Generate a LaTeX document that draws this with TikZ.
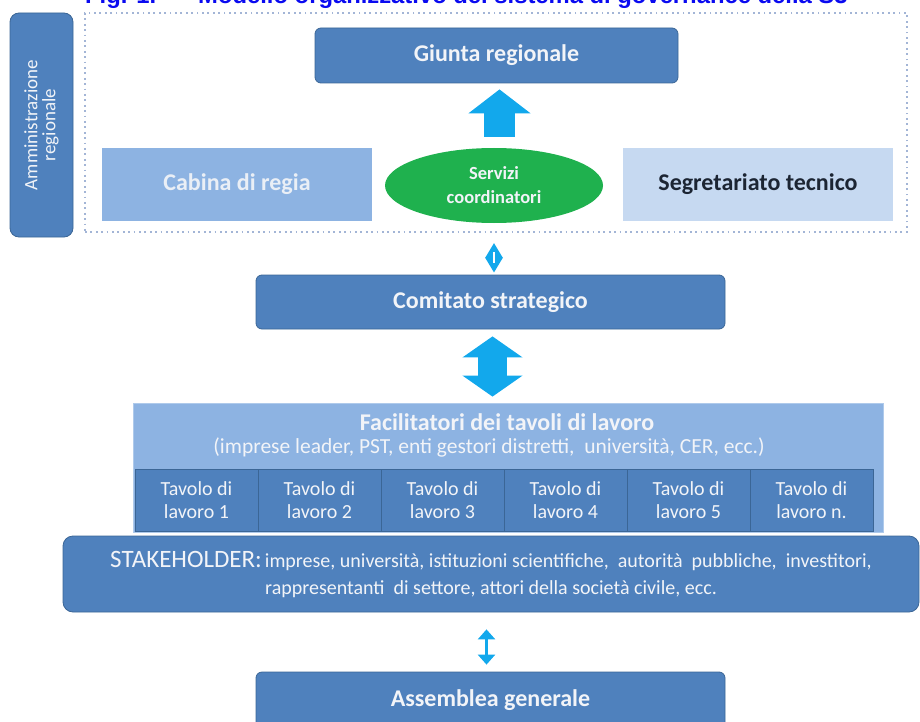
\documentclass[tikz,border=0pt]{standalone}
\usepackage{fontspec}
\setmainfont{Carlito}
\newfontfamily\titlefont{Liberation Sans}
\usetikzlibrary{arrows.meta,shapes.geometric}
\definecolor{boxblue}{HTML}{4F81BD}
\definecolor{boxedge}{HTML}{3B6696}
\definecolor{lightblue}{HTML}{8DB3E2}
\definecolor{paleblue}{HTML}{C6D9F1}
\definecolor{arrowcyan}{HTML}{12A8EC}
\definecolor{greenell}{HTML}{1FB14E}
\definecolor{dotcol}{HTML}{A3B5D6}
\definecolor{titleblue}{HTML}{0A0AF0}
\definecolor{whitetext}{HTML}{F2F4F8}
\definecolor{darktext}{HTML}{1C2533}
\tikzset{
  darkbox/.style={draw=boxedge, line width=0.8pt, fill=boxblue, rounded corners=6pt, text=whitetext, inner sep=0pt},
  bigtext/.style={font=\bfseries\fontsize{24}{28}\selectfont},
  flatbox/.style={inner sep=0pt},
  cell/.style={draw=boxedge, line width=0.8pt, fill=boxblue, text=whitetext, inner sep=0pt,
    minimum width=123pt, minimum height=62pt, align=center, font=\fontsize{20}{23}\selectfont},
  blockarrow/.style={draw=arrowcyan, color=arrowcyan},
  titletext/.style={font=\titlefont\bfseries\fontsize{23.8}{26}\selectfont, text=titleblue, inner sep=0pt, anchor=base west}
}
\begin{document}
\begin{tikzpicture}[x=1pt,y=-1pt]
\useasboundingbox (0,0) rectangle (920,722);
\clip (0,0) rectangle (920,722);

% title (cut off at the top, as in the reference)
\node[titletext] (fig) at (85,4) {Fig. 1.};
\node[titletext] (title) at (198,4) {Modello organizzativo del sistema di governance della S3};

% left vertical label box
\node[darkbox, rounded corners=9pt, rotate=90, minimum width=224pt, minimum height=63pt,
      align=center, font=\fontsize{19}{18}\selectfont] (adm) at (41.5,125) {Amministrazione\\regionale};

% dotted frame
\node[draw=dotcol, line width=2pt, dash pattern=on 1.8pt off 3.6pt, minimum width=822pt, minimum height=219pt, inner sep=0pt] (frame) at (496,122.5) {};

% top boxes
\node[darkbox, bigtext, minimum width=363pt, minimum height=55pt] (giunta) at (496.5,55.5) {Giunta regionale};
\node[flatbox, fill=lightblue, text=whitetext!92!lightblue, bigtext, minimum width=270pt, minimum height=73pt] (cabina) at (237,184.5) {Cabina di regia};
\node[flatbox, fill=paleblue, text=darktext, bigtext, minimum width=270pt, minimum height=73pt] (segr) at (758,184.5) {Segretariato tecnico};
\node[ellipse, fill=greenell, text=whitetext, minimum width=218pt, minimum height=75pt, inner sep=0pt,
      align=center, font=\bfseries\fontsize{18.5}{24}\selectfont] (servizi) at (494,185.5) {Servizi\\coordinatori};

% middle boxes
\node[darkbox, bigtext, minimum width=469pt, minimum height=54pt] (comitato) at (490.5,302) {Comitato strategico};
\node[flatbox, fill=lightblue, draw=lightblue!70!white, line width=0.8pt, minimum width=750pt, minimum height=129pt] (facil) at (508,467.5) {};
\node[text=whitetext, inner sep=0pt, font=\bfseries\fontsize{24}{26}\selectfont] (facT) at (507,422) {Facilitatori dei tavoli di lavoro};
\node[text=whitetext, inner sep=0pt, font=\fontsize{21.5}{24}\selectfont] (facS) at (489,447) {(imprese leader, PST, enti gestori distretti,\ \ università, CER, ecc.)};

\node[cell] (t1) at (196.5,500) {Tavolo di\\lavoro 1};
\node[cell] (t2) at (319.5,500) {Tavolo di\\lavoro 2};
\node[cell] (t3) at (442.5,500) {Tavolo di\\lavoro 3};
\node[cell] (t4) at (565.5,500) {Tavolo di\\lavoro 4};
\node[cell] (t5) at (688.5,500) {Tavolo di\\lavoro 5};
\node[cell] (t6) at (811.5,500) {Tavolo di\\lavoro n.};

\node[darkbox, rounded corners=10pt, minimum width=856pt, minimum height=76pt, align=center,
      font=\fontsize{20}{27}\selectfont] (stake) at (491,574)
  {{\fontsize{25}{27}\selectfont STAKEHOLDER:}\kern3pt imprese,\ università,\ istituzioni scientifiche,\ \ autorità\ \ pubbliche,\ \ investitori,\\
   rappresentanti\ \ di settore,\ attori della società civile,\ ecc.};

\node[darkbox, bigtext, minimum width=469pt, minimum height=56pt] (assemblea) at (490.5,700) {Assemblea generale};

% arrows
\draw[blockarrow, line width=31pt, -{Triangle[width=61pt,length=24pt]}, shorten <=11pt, shorten >=6pt]
  ([xshift=5.5pt]servizi.north) -- ([xshift=5.5pt]servizi.north |- giunta.south);
\draw[blockarrow, line width=3pt, {Triangle[width=17pt,length=15pt]}-{Triangle[width=17pt,length=15pt]}, shorten <=10pt, shorten >=2pt]
  ([xshift=-2pt]frame.south) -- ([xshift=-2pt]frame.south |- comitato.north);
\draw[white, line width=1.1pt] (494,252) -- (494,263);
\draw[blockarrow, line width=29pt, {Triangle[width=59pt,length=21pt]}-{Triangle[width=59pt,length=21pt]}, shorten <=7pt, shorten >=6pt]
  ([xshift=2pt]comitato.south) -- ([xshift=2pt]comitato.south |- facil.north);
\draw[blockarrow, line width=3pt, {Triangle[width=17pt,length=10pt]}-{Triangle[width=17pt,length=10pt]}, shorten <=17pt, shorten >=7pt]
  ([xshift=-4.5pt]stake.south) -- ([xshift=-4.5pt]stake.south |- assemblea.north);
\end{tikzpicture}
\end{document}
